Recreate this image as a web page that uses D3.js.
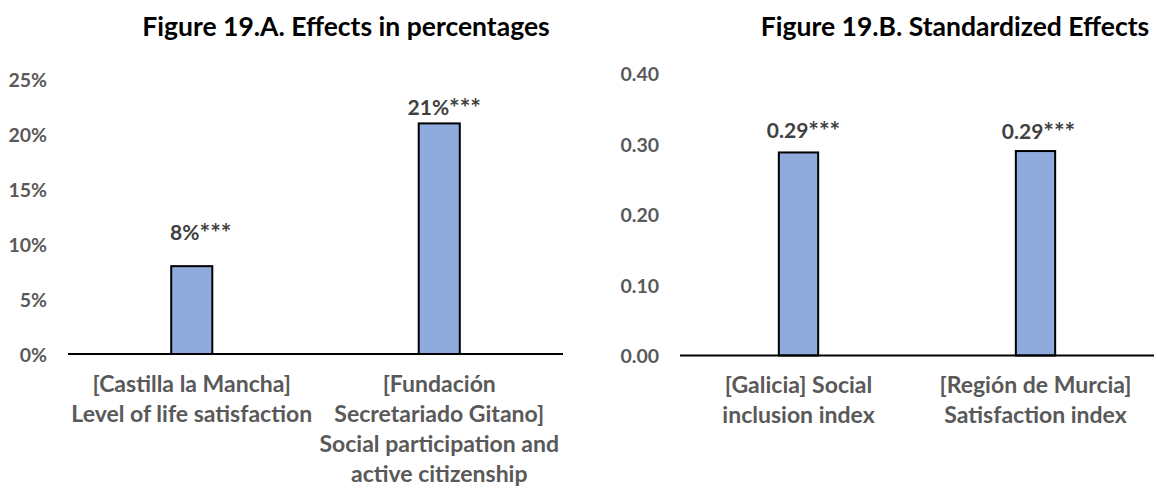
<!DOCTYPE html>
<html><head><meta charset="utf-8">
<script src="https://cdn.jsdelivr.net/npm/d3@7"></script>
<style>
html,body{margin:0;padding:0;background:#fff;}
svg text{font-family:Lato,"Open Sans",sans-serif;font-weight:bold;}
</style></head>
<body>
<svg id="c" width="1157" height="488"></svg>
<script>
// ---- data ----
const titleA = "Figure 19.A. Effects in percentages";
const titleB = "Figure 19.B. Standardized Effects";
const categoriesA = [
  ["[Castilla la Mancha]", "Level of life satisfaction"],
  ["[Fundación", "Secretariado Gitano]", "Social participation and", "active citizenship"]
];
const valuesA = [0.08, 0.21];
const labelsA = ["8%", "21%"];
const sigA = ["***", "***"];
const ticksA = [0, 0.05, 0.10, 0.15, 0.20, 0.25];

const categoriesB = [
  ["[Galicia] Social", "inclusion index"],
  ["[Región de Murcia]", "Satisfaction index"]
];
const valuesB = [0.288, 0.290];
const labelsB = ["0.29", "0.29"];
const sigB = ["***", "***"];
const ticksB = [0, 0.10, 0.20, 0.30, 0.40];

// ---- layout (not data) ----
const labelOffA = [[9, 26], [5, 8]];   // [dx, dy] manual label placement
const labelOffB = [[5, 14], [3, 12]];

const svg = d3.select("#c");
const BAR = "#8FAADC";

function panel(opt) {
  const x = d3.scaleBand().domain(opt.cats.map((d, i) => i))
    .range([opt.x0, opt.x1]).paddingInner(0.834).paddingOuter(0.417);
  const y = d3.scaleLinear().domain([0, opt.max]).range([opt.yb, opt.yt]);

  const ax = d3.axisLeft(y).tickValues(opt.ticks).tickFormat(opt.fmt).tickSize(0).tickPadding(0);
  const g = svg.append("g").attr("transform", `translate(${opt.tickX},0)`).call(ax);
  g.select(".domain").remove();
  g.selectAll("text").attr("fill", "#595959").style("font-size", "19.5px").attr("dy", "0.36em");

  svg.selectAll(null).data(opt.vals).enter().append("rect")
    .attr("x", (d, i) => x(i)).attr("width", x.bandwidth())
    .attr("y", d => y(d)).attr("height", d => y(0) - y(d))
    .attr("fill", BAR).attr("stroke", "#000").attr("stroke-width", 2);

  svg.append("line").attr("x1", opt.x0).attr("x2", opt.x1)
    .attr("y1", y(0)).attr("y2", y(0)).attr("stroke", "#000").attr("stroke-width", 2);

  const lt = svg.selectAll(null).data(opt.vals).enter().append("text")
    .attr("x", (d, i) => x(i) + x.bandwidth() / 2 + opt.off[i][0])
    .attr("y", (d, i) => y(d) - opt.off[i][1])
    .attr("text-anchor", "middle").attr("fill", "#404040").style("font-size", "21px");
  lt.append("tspan").text((d, i) => opt.labels[i]);
  lt.append("tspan").style("font-size", "25px").attr("dy", "2").text((d, i) => opt.sig[i]);

  opt.cats.forEach((lines, i) => {
    const t = svg.append("text").attr("text-anchor", "middle").attr("fill", "#595959")
      .style("font-size", "23px");
    lines.forEach((ln, j) => {
      t.append("tspan").attr("x", x(i) + x.bandwidth() / 2).attr("y", opt.catY + j * 30).text(ln);
    });
  });

  svg.append("text").attr("x", opt.titleX).attr("y", 36).attr("text-anchor", "middle")
    .attr("fill", "#000").style("font-size", "26.5px").text(opt.title);
}

panel({cats: categoriesA, vals: valuesA, labels: labelsA, sig: sigA, ticks: ticksA, max: 0.25,
  fmt: d3.format(".0%"), x0: 68, x1: 563, yb: 354, yt: 79.5, tickX: 47,
  off: labelOffA, catY: 392, title: titleA, titleX: 346});
panel({cats: categoriesB, vals: valuesB, labels: labelsB, sig: sigB, ticks: ticksB, max: 0.40,
  fmt: d3.format(".2f"), x0: 680, x1: 1154, yb: 355.5, yt: 73.5, tickX: 659,
  off: labelOffB, catY: 393, title: titleB, titleX: 955});
</script>
</body></html>
